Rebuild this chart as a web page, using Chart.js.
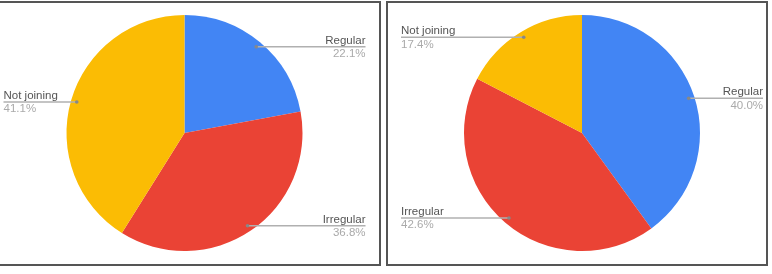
<!DOCTYPE html>
<html>
<head>
<meta charset="utf-8">
<script src="https://cdn.jsdelivr.net/npm/chart.js@4/dist/chart.umd.min.js"></script>
<style>
  html, body { margin: 0; padding: 0; background: #fff; width: 772px; height: 274px; overflow: hidden; }
  .box { position: absolute; border: 2px solid #555; box-sizing: border-box; }
  .wrap { position: absolute; }
</style>
</head>
<body>
<div class="box" style="left:-4px; top:1px; width:385px; height:265px;"></div>
<div class="box" style="left:386px; top:1px; width:382px; height:265px;"></div>
<div class="wrap" style="left:0px; top:0px; width:380px; height:266px;"><canvas id="c1"></canvas></div>
<div class="wrap" style="left:386px; top:0px; width:386px; height:266px;"><canvas id="c2"></canvas></div>
<script>
const categories = ["Regular", "Irregular", "Not joining"];
const leftValues = [22.1, 36.8, 41.1];
const rightValues = [40.0, 42.6, 17.4];
const sliceColors = ["#4285F4", "#EA4335", "#FBBC04"];

const leaderLabels = {
  id: 'leaderLabels',
  afterDraw(chart) {
    const ctx = chart.ctx;
    const meta = chart.getDatasetMeta(0);
    const data = chart.data.datasets[0].data;
    const total = data.reduce((a, b) => a + b, 0);
    ctx.save();
    meta.data.forEach((arc, i) => {
      const p = arc.getProps(['x', 'y', 'startAngle', 'endAngle', 'outerRadius'], true);
      const mid = (p.startAngle + p.endAngle) / 2;
      const dx = p.x + Math.cos(mid) * p.outerRadius * 0.95;
      const dy = p.y + Math.sin(mid) * p.outerRadius * 0.95;
      const right = Math.cos(mid) >= 0;
      const edge = right ? p.x + 181 : p.x - 181;
      ctx.strokeStyle = '#b0b0b0';
      ctx.lineWidth = 1.5;
      ctx.beginPath();
      ctx.moveTo(dx, dy);
      ctx.lineTo(edge, dy);
      ctx.stroke();
      ctx.fillStyle = '#888';
      ctx.beginPath();
      ctx.arc(dx, dy, 1.8, 0, Math.PI * 2);
      ctx.fill();
      ctx.font = '11.5px "Liberation Sans", Arial, sans-serif';
      ctx.textAlign = right ? 'right' : 'left';
      ctx.textBaseline = 'bottom';
      ctx.fillStyle = '#555';
      ctx.fillText(chart.data.labels[i], edge, dy - 0.5);
      ctx.textBaseline = 'top';
      ctx.fillStyle = '#aaa';
      ctx.fillText((data[i] / total * 100).toFixed(1) + '%', edge, dy + 1.5);
    });
    ctx.restore();
  }
};

function makePie(id, values, pad) {
  new Chart(document.getElementById(id), {
    type: 'pie',
    data: {
      labels: categories,
      datasets: [{ data: values, backgroundColor: sliceColors, borderWidth: 0 }]
    },
    options: {
      responsive: true,
      maintainAspectRatio: false,
      animation: false,
      layout: { padding: pad },
      plugins: { legend: { display: false }, tooltip: { enabled: false } }
    },
    plugins: [leaderLabels]
  });
}

makePie('c1', leftValues, { left: 66, right: 77, top: 15, bottom: 15 });
makePie('c2', rightValues, { left: 78, right: 72, top: 15, bottom: 15 });
</script>
</body>
</html>
